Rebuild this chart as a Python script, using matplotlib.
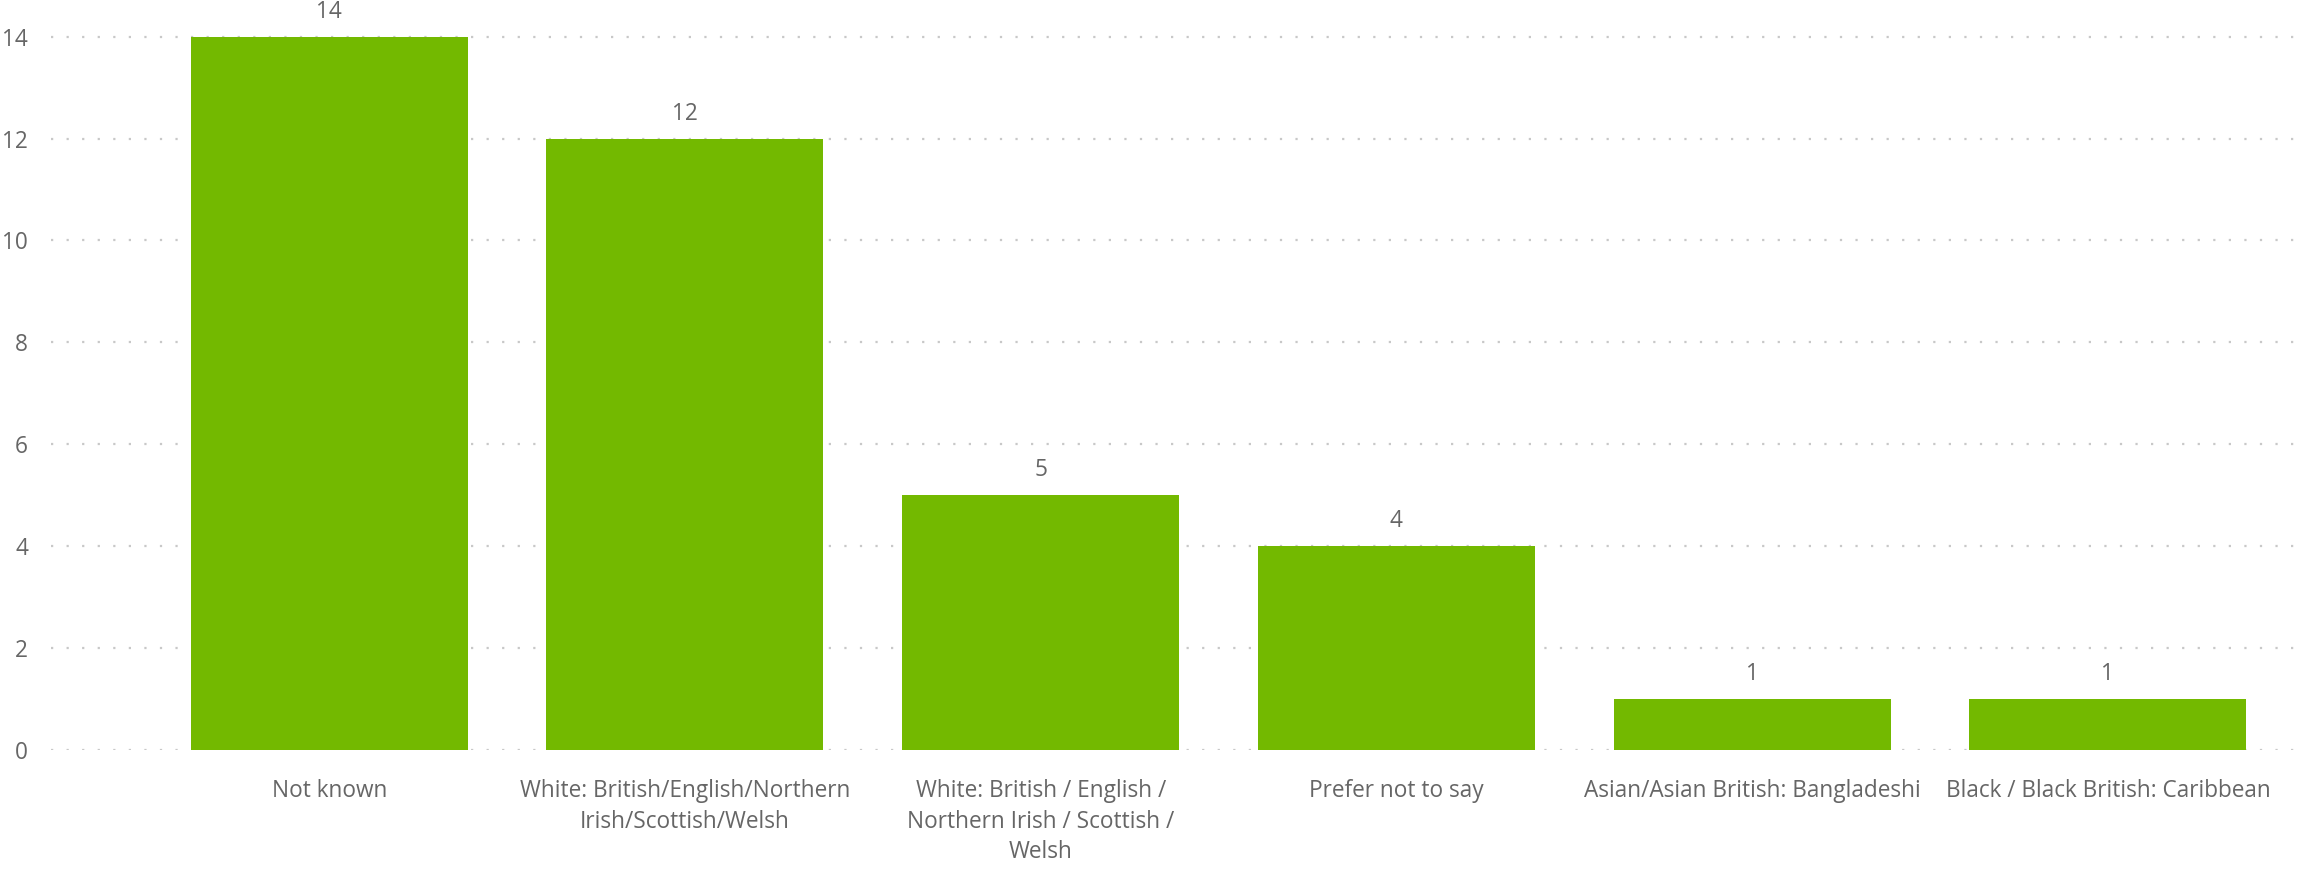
import matplotlib
matplotlib.use("Agg")
import matplotlib.pyplot as plt

# Headcount by ethnicity
categories = [
    "Not known",
    "White: British/English/Northern\nIrish/Scottish/Welsh",
    "White: British / English /\nNorthern Irish / Scottish /\nWelsh",
    "Prefer not to say",
    "Asian/Asian British: Bangladeshi",
    "Black / Black British: Caribbean",
]
counts = [14, 12, 5, 4, 1, 1]
y_ticks = [0, 2, 4, 6, 8, 10, 12, 14]

BAR_COLOR = "#73B900"
TEXT_COLOR = "#666666"
GRID_COLOR = "#C8C8C8"
FONT = ["Open Sans", "DejaVu Sans"]
FS = 16.3

plt.rcParams["font.family"] = FONT

W, H = 2300, 876
fig = plt.figure(figsize=(W / 100, H / 100), dpi=100)
left_px, bottom_px = 51, 126.4
ax = fig.add_axes([left_px / W, bottom_px / H, 1 - left_px / W, 1 - bottom_px / H])

x = list(range(len(categories)))
ax.bar(x, counts, width=0.779, color=BAR_COLOR, zorder=2)

for xi, v in zip(x, counts):
    ax.annotate(str(v), (xi, v), xytext=(0, 18), textcoords="offset points",
                ha="center", va="center", fontsize=FS, color=TEXT_COLOR)

ax.set_xlim(-0.782, 5.540)
ax.set_ylim(0, 14.72)
ax.set_yticks(y_ticks)
ax.set_xticks(x)
ax.set_xticklabels(categories, fontsize=FS, color=TEXT_COLOR, linespacing=1.38)
ax.tick_params(axis="y", length=0, pad=16.5, labelsize=FS, labelcolor=TEXT_COLOR)
ax.tick_params(axis="x", length=0, pad=21, labelsize=FS, labelcolor=TEXT_COLOR)

ax.yaxis.grid(True, color=GRID_COLOR, linewidth=1.6, linestyle=(0, (1, 6)), zorder=0)
ax.xaxis.grid(False)
ax.set_axisbelow(True)
for s in ax.spines.values():
    s.set_visible(False)

fig.savefig("out.png", dpi=100, facecolor="white")
